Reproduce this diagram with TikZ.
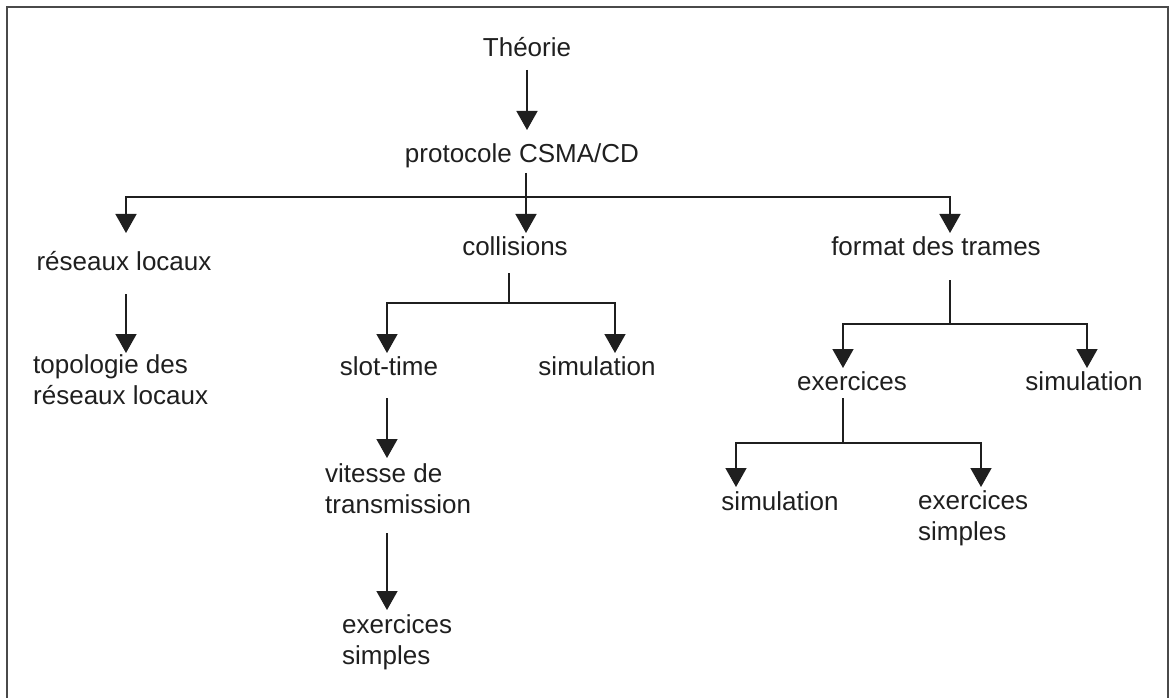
\documentclass[tikz,border=0pt]{standalone}
\usepackage{fontspec}
\setmainfont{Liberation Sans}
\usepackage{tikz}
\usetikzlibrary{arrows.meta}
\definecolor{ink}{HTML}{1F1F1F}
\definecolor{frame}{HTML}{4A4A4A}

\begin{document}
\begin{tikzpicture}
        [%%%%%%%%%%%%%%%%%%%%%%%%%%%%%%
        x=1pt, y=-1pt,
        lbl/.style={inner sep=0pt, anchor=base, text=ink,
                    font=\fontsize{26}{31}\selectfont},
        lbls/.style={lbl, align=left, anchor=base west},
        link/.style={draw=ink, line width=1.5pt},
        arr/.style={link, -{Triangle[width=21pt,length=19pt]}},
        ]%%%%%%%%%%%%%%%%%%%%%%%%%%%%%%
        \useasboundingbox (0,0) rectangle (1171,698);
        \draw[frame, line width=2pt] (7,698) -- (7,7) -- (1168,7) -- (1168,698);

        % labels (two-line ones sit on their last line)
        \node[lbl] (theorie) at (527,57) {Théorie};
        \node[lbl] (protocole) at (522,163) {protocole CSMA/CD};
        \node[lbl] (reseaux) at (124,270) {réseaux locaux};
        \node[lbl] (collisions) at (515,255) {collisions};
        \node[lbl] (format) at (936,255) {format des trames};
        \node[lbls] (topologie) at (33,404) {topologie des\\réseaux locaux};
        \node[lbl] (slottime) at (389,375) {slot-time};
        \node[lbl] (simA) at (597,375) {simulation};
        \node[lbls] (vitesse) at (325,513) {vitesse de\\transmission};
        \node[lbls] (exsimA) at (342,664) {exercices\\simples};
        \node[lbl] (exercices) at (852,390) {exercices};
        \node[lbl] (simB) at (1084,390) {simulation};
        \node[lbl] (simC) at (780,510) {simulation};
        \node[lbls] (exsimB) at (918,540) {exercices\\simples};

        % branch points
        \coordinate (bus) at (526,197);
        \coordinate (fA) at (509,303);
        \coordinate (fB) at (950,324);
        \coordinate (fC) at (843,443);

        \draw[arr, shorten <=13pt, shorten >=33pt] (theorie.base) -- (theorie.base |- protocole.base);
        \draw[arr, shorten <=10pt, shorten >=22pt] (protocole.base -| bus) -- (bus |- collisions.base);
        \draw[arr, shorten >=37pt] (bus) -| ([xshift=2pt]reseaux.base);
        \draw[arr, shorten >=22pt] (bus) -| (format.base -| fB);

        \draw[arr, shorten <=24pt, shorten >=51pt] ([xshift=2pt]reseaux.base) -- ([xshift=2pt]reseaux.base |- topologie.base);

        \draw[link, shorten <=18pt] (collisions.base -| fA) -- (fA);
        \draw[arr, shorten >=22pt] (fA) -| ([xshift=-2pt]slottime.base);
        \draw[arr, shorten >=22pt] (fA) -| ([xshift=18pt]simA.base);
        \draw[arr, shorten <=23pt, shorten >=55pt] ([xshift=-2pt]slottime.base) -- ([xshift=-2pt]slottime.base |- vitesse.base);
        \draw[arr, shorten <=20pt, shorten >=54pt] ([xshift=-2pt]slottime.base |- vitesse.base) -- ([xshift=-2pt]slottime.base |- exsimA.base);

        \draw[link, shorten <=25pt] (format.base -| fB) -- (fB);
        \draw[arr, shorten >=22pt] (fB) -| ([xshift=-9pt]exercices.base);
        \draw[arr, shorten >=22pt] (fB) -| ([xshift=3pt]simB.base);

        \draw[link, shorten <=8pt] (exercices.base -| fC) -- (fC);
        \draw[arr, shorten >=23pt] (fC) -| ([xshift=-44pt]simC.base);
        \draw[arr, shorten >=53pt] (fC) -| ([xshift=63pt]exsimB.base west);

      \end{tikzpicture}
\end{document}
